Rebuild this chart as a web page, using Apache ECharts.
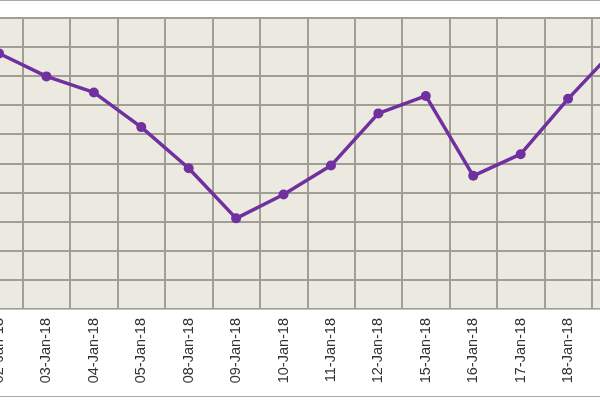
<!DOCTYPE html>
<html lang="en">
<head>
    <meta charset="UTF-8">
    <title>Chart</title>
    <script type="text/javascript" src="https://cdn.jsdelivr.net/npm/echarts@6/dist/echarts.min.js"></script>
    <style>
        html, body { margin: 0; padding: 0; background: #fff; }
    </style>
</head>
<body>
<div id="main" style="width:600px;height:400px;"></div>

<script type="text/javascript">
    // dates on the x axis (trading days)
    var dates = ['02-Jan-18', '03-Jan-18', '04-Jan-18', '05-Jan-18', '08-Jan-18', '09-Jan-18', '10-Jan-18',
        '11-Jan-18', '12-Jan-18', '15-Jan-18', '16-Jan-18', '17-Jan-18', '18-Jan-18', '19-Jan-18'];
    // values (grid units, no axis labels visible)
    var values = [8.77, 7.98, 7.43, 6.24, 4.83, 3.11, 3.93, 4.92, 6.71, 7.31, 4.57, 5.31, 7.21, 8.93];
    var yMin = 0;
    var yMax = 10;
    var yStep = 1;

    var myChart = echarts.init(document.getElementById('main'));

    var option = {
        animation: false,
        backgroundColor: '#ffffff',
        grid: {
            left: -24.7,
            width: 663.9,
            top: 17.5,
            bottom: 91,
            containLabel: false,
            outerBoundsMode: 'none',
            show: true,
            backgroundColor: '#ece9e0',
            borderWidth: 0
        },
        graphic: [{
            type: 'rect',
            shape: { x: -5, y: 0.5, width: 610, height: 396 },
            style: { fill: 'none', stroke: '#a8a8a8', lineWidth: 1 },
            silent: true,
            z: -1
        }],
        xAxis: {
            type: 'category',
            data: dates,
            boundaryGap: true,
            axisLine: { lineStyle: { color: '#c4c4c4', width: 1 } },
            axisTick: { show: false },
            axisLabel: {
                rotate: 90,
                interval: 0,
                margin: 9,
                color: '#333',
                fontFamily: 'Liberation Sans',
                fontSize: 14.5
            },
            splitLine: {
                show: true,
                interval: 0,
                lineStyle: { color: '#a19e96', width: 2 }
            }
        },
        yAxis: {
            type: 'value',
            min: yMin,
            max: yMax,
            interval: yStep,
            axisLine: { show: false },
            axisTick: { show: false },
            axisLabel: { show: false },
            splitLine: { lineStyle: { color: '#a19e96', width: 2 } }
        },
        series: [{
            type: 'line',
            data: values,
            symbol: 'circle',
            symbolSize: 10,
            lineStyle: { color: '#7030a0', width: 3.5 },
            itemStyle: { color: '#7030a0' }
        }]
    };
    myChart.setOption(option);
</script>
</body>
</html>
